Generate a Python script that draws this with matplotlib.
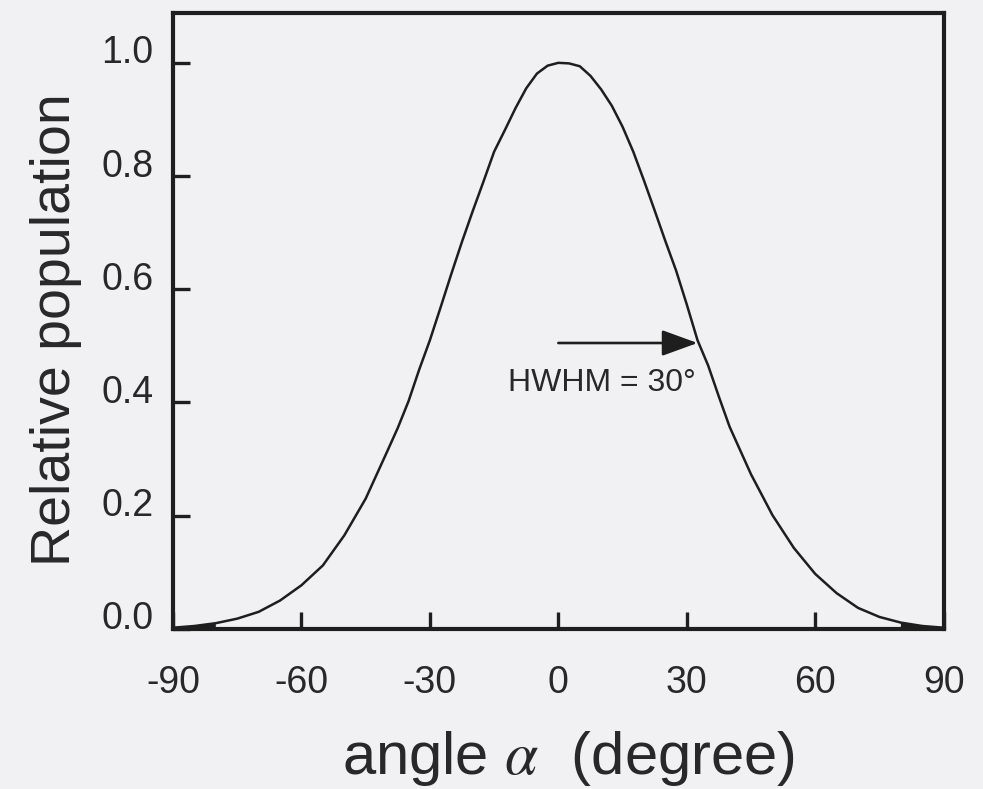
import matplotlib
matplotlib.use("Agg")
import matplotlib.pyplot as plt
import matplotlib.transforms as mtransforms

#### data
angle = [-90, -85, -80, -75, -70, -65, -60, -55, -50, -45, -40, -37.5, -35,
         -32.5, -30, -27.5, -25, -22.5, -20, -17.5, -15, -12.5, -10, -7.5,
         -5, -2.5, 0, 2.5, 5, 7.5, 10, 12.5, 15, 17.5, 20, 22.5, 25, 27.5,
         30, 32.5, 35, 37.5, 40, 45, 50, 55, 60, 65, 70, 75, 80, 85, 90]
population = [0.002, 0.005, 0.010, 0.018, 0.030, 0.050, 0.077, 0.112, 0.165,
              0.230, 0.313, 0.355, 0.402, 0.458, 0.510, 0.568, 0.627, 0.684,
              0.738, 0.790, 0.843, 0.881, 0.920, 0.955, 0.981, 0.995, 1.000,
              0.999, 0.994, 0.977, 0.953, 0.924, 0.887, 0.843, 0.792, 0.739,
              0.685, 0.633, 0.573, 0.510, 0.465, 0.410, 0.357, 0.273, 0.201,
              0.143, 0.097, 0.063, 0.037, 0.021, 0.011, 0.005, 0.002]
x_ticks = [-90, -60, -30, 0, 30, 60, 90]
y_ticks = [0.0, 0.2, 0.4, 0.6, 0.8, 1.0]
y_ticklabels = ["0.0", "0.2", "0.4", "0.6", "0.8", "1.0"]
hwhm_label = "HWHM = 30\u00b0"
arrow_from = (0.0, 0.505)
arrow_to = (32.5, 0.505)

####
bg = "#f1f0f3"
ink = "#1e1e1e"
txt = "#282828"

plt.rcParams["font.family"] = ["Liberation Sans", "DejaVu Sans"]
plt.rcParams["mathtext.fontset"] = "stix"
plt.rcParams["axes.unicode_minus"] = False

fig = plt.figure(figsize=(9.83, 7.89), dpi=100, facecolor=bg)
ax = fig.add_axes([0.176, 0.203, 0.784, 0.7805], facecolor=bg)

ax.plot(angle, population, color=ink, lw=1.8)
# dark wedges where the pen ran along the axis
ax.fill_between(angle, 0, population,
                where=[abs(a) >= 80 for a in angle], color=ink, lw=0)

ax.set_xlim(-90, 90)
ax.set_ylim(0, 1.088)
ax.set_xticks(x_ticks)
ax.set_yticks(y_ticks)
ax.set_yticklabels(y_ticklabels)

for s in ax.spines.values():
    s.set_linewidth(3.0)
    s.set_color(ink)
ax.tick_params(direction="in", length=12, width=2.4, color=ink,
               labelsize=27, labelcolor=txt)
ax.tick_params(axis="x", pad=26)
ax.tick_params(axis="y", pad=14)
ax.tick_params(top=False, right=False)

# labels sit a little above their ticks in the original
shift = mtransforms.ScaledTranslation(0, 13.5 / 100, fig.dpi_scale_trans)
for lbl in ax.get_yticklabels():
    lbl.set_transform(lbl.get_transform() + shift)

ax.annotate("", xy=arrow_to, xytext=arrow_from,
            arrowprops=dict(arrowstyle="-|>,head_length=22,head_width=8",
                            mutation_scale=1, lw=1.9, color=ink,
                            shrinkA=0, shrinkB=0))
ax.text(-11.7, 0.434, hwhm_label, fontsize=23, color=txt,
        ha="left", va="center")

fig.text(56 / 983, 1 - 330 / 789, "Relative population", rotation=90,
         fontsize=40, color=txt, ha="center", va="center")
fig.text(569 / 983, 1 - 758 / 789, r"angle $\alpha$  (degree)",
         fontsize=43, color=txt, ha="center", va="center")

fig.savefig("out.png", dpi=100, facecolor=bg)
